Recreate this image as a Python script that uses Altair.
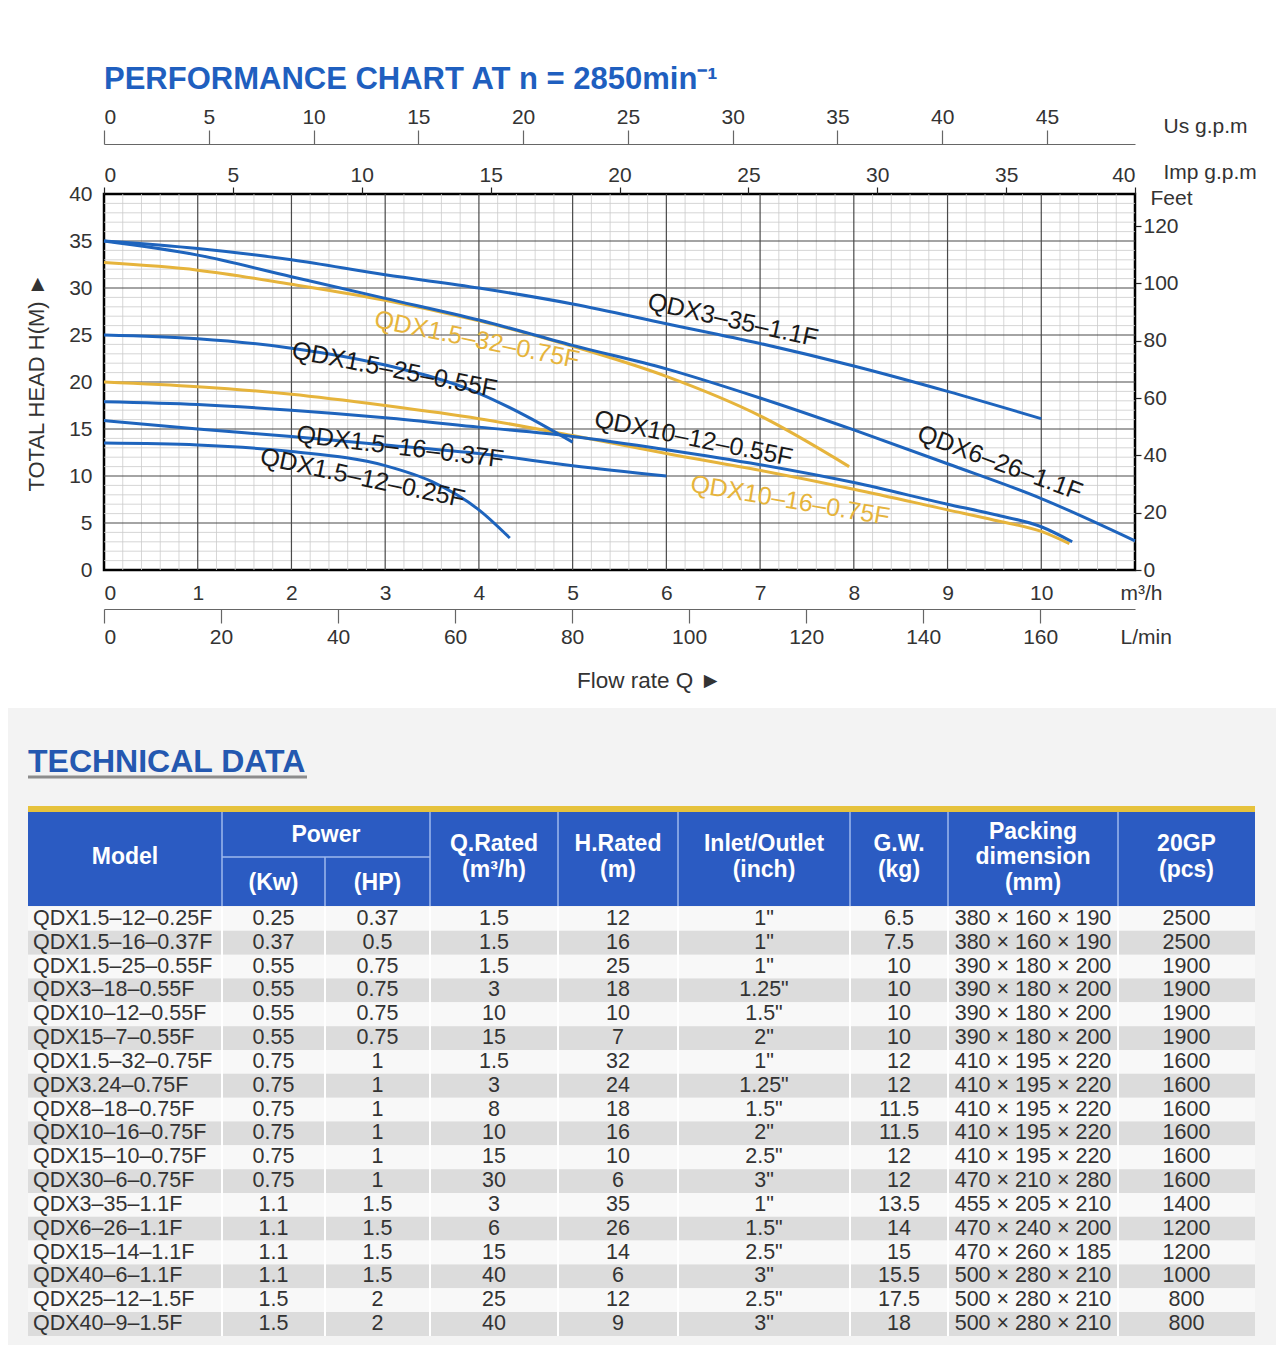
import altair as alt
import pandas as pd
import numpy as np

FONT = "Liberation Sans"
BLUE = "#1e64bd"
GOLD = "#e6b43c"
TXT = "#333333"

# ---------------- performance curves (flow m3/h, head m) ----------------
Q_3_35 = [0, 1, 2, 3, 4, 5, 6, 7, 8, 9, 10]
H_3_35 = [35.0, 34.2, 33.0, 31.4, 30.0, 28.3, 26.2, 24.1, 21.7, 19.0, 16.1]
Q_6_26 = [0, 1, 2, 3, 4, 5, 6, 7, 8, 9, 10, 11]
H_6_26 = [35.0, 33.5, 31.2, 28.9, 26.6, 23.9, 21.4, 18.3, 14.9, 11.3, 7.6, 3.1]
Q_15_32 = [0, 1, 2, 3, 4, 5, 6, 7, 7.95]
H_15_32 = [32.7, 31.9, 30.4, 28.7, 26.5, 23.8, 20.6, 16.4, 11.0]
Q_15_25 = [0, 1, 2, 3, 4, 4.5, 5]
H_15_25 = [25.0, 24.6, 23.6, 21.8, 18.8, 16.4, 13.6]
Q_10_12 = [0, 1, 2, 3, 4, 5, 6, 7, 8, 9, 9.5, 10, 10.33]
H_10_12 = [17.9, 17.6, 17.0, 16.2, 15.2, 14.2, 12.8, 11.2, 9.3, 7.0, 5.9, 4.6, 3.0]
Q_10_16 = [0, 1, 2, 3, 4, 5, 6, 7, 8, 9, 9.5, 10, 10.3]
H_10_16 = [20.0, 19.5, 18.7, 17.5, 16.1, 14.3, 12.4, 10.6, 8.6, 6.4, 5.3, 4.1, 2.8]
Q_15_16 = [0, 1, 2, 3, 4, 5, 6]
H_15_16 = [15.9, 15.0, 14.2, 13.3, 12.4, 11.1, 10.0]
Q_15_12 = [0, 1, 2, 3, 3.5, 4, 4.33]
H_15_12 = [13.5, 13.3, 12.6, 11.1, 9.4, 6.4, 3.4]

CURVES = [
    ("QDX3-35-1.1F", "blue", Q_3_35, H_3_35),
    ("QDX6-26-1.1F", "blue", Q_6_26, H_6_26),
    ("QDX1.5-32-0.75F", "yellow", Q_15_32, H_15_32),
    ("QDX1.5-25-0.55F", "blue", Q_15_25, H_15_25),
    ("QDX10-12-0.55F", "blue", Q_10_12, H_10_12),
    ("QDX10-16-0.75F", "yellow", Q_10_16, H_10_16),
    ("QDX1.5-16-0.37F", "blue", Q_15_16, H_15_16),
    ("QDX1.5-12-0.25F", "blue", Q_15_12, H_15_12),
]

LABEL_TEXT = ["QDX3–35–1.1F", "QDX1.5–32–0.75F", "QDX1.5–25–0.55F", "QDX10–12–0.55F",
              "QDX6–26–1.1F", "QDX1.5–16–0.37F", "QDX1.5–12–0.25F", "QDX10–16–0.75F"]
LABEL_Q = [6.71, 3.98, 3.10, 6.29, 9.56, 3.16, 2.76, 7.32]
LABEL_H = [26.6, 24.5, 21.3, 14.0, 11.4, 13.1, 9.8, 7.4]
LABEL_ANGLE = [12.5, 11.5, 11.0, 11.3, 20.4, 7.0, 12.0, 9.6]
LABEL_KIND = ["black", "gold", "black", "black", "black", "black", "black", "gold"]

M3H_TICKS = [0, 1, 2, 3, 4, 5, 6, 7, 8, 9, 10]
LMIN_TICKS = [0, 20, 40, 60, 80, 100, 120, 140, 160]
IMP_TICKS = [0, 5, 10, 15, 20, 25, 30, 35, 40]
US_TICKS = [0, 5, 10, 15, 20, 25, 30, 35, 40, 45]
HEAD_TICKS = [0, 5, 10, 15, 20, 25, 30, 35, 40]
FEET_TICKS = [0, 20, 40, 60, 80, 100, 120]

# ---------------- technical data ----------------
MODELS = ["QDX1.5–12–0.25F", "QDX1.5–16–0.37F", "QDX1.5–25–0.55F", "QDX3–18–0.55F",
          "QDX10–12–0.55F", "QDX15–7–0.55F", "QDX1.5–32–0.75F", "QDX3.24–0.75F",
          "QDX8–18–0.75F", "QDX10–16–0.75F", "QDX15–10–0.75F", "QDX30–6–0.75F",
          "QDX3–35–1.1F", "QDX6–26–1.1F", "QDX15–14–1.1F", "QDX40–6–1.1F",
          "QDX25–12–1.5F", "QDX40–9–1.5F"]
KW = ["0.25", "0.37", "0.55", "0.55", "0.55", "0.55", "0.75", "0.75", "0.75", "0.75",
      "0.75", "0.75", "1.1", "1.1", "1.1", "1.1", "1.5", "1.5"]
HP = ["0.37", "0.5", "0.75", "0.75", "0.75", "0.75", "1", "1", "1", "1", "1", "1",
      "1.5", "1.5", "1.5", "1.5", "2", "2"]
Q_RATED = ["1.5", "1.5", "1.5", "3", "10", "15", "1.5", "3", "8", "10", "15", "30",
           "3", "6", "15", "40", "25", "40"]
H_RATED = ["12", "16", "25", "18", "10", "7", "32", "24", "18", "16", "10", "6",
           "35", "26", "14", "6", "12", "9"]
INLET = ['1"', '1"', '1"', '1.25"', '1.5"', '2"', '1"', '1.25"', '1.5"', '2"', '2.5"', '3"',
         '1"', '1.5"', '2.5"', '3"', '2.5"', '3"']
GW = ["6.5", "7.5", "10", "10", "10", "10", "12", "12", "11.5", "11.5", "12", "12",
      "13.5", "14", "15", "15.5", "17.5", "18"]
PACKING = ["380 × 160 × 190", "380 × 160 × 190", "390 × 180 × 200", "390 × 180 × 200",
           "390 × 180 × 200", "390 × 180 × 200", "410 × 195 × 220", "410 × 195 × 220",
           "410 × 195 × 220", "410 × 195 × 220", "410 × 195 × 220", "470 × 210 × 280",
           "455 × 205 × 210", "470 × 240 × 200", "470 × 260 × 185", "500 × 280 × 210",
           "500 × 280 × 210", "500 × 280 × 210"]
PCS = ["2500", "2500", "1900", "1900", "1900", "1900", "1600", "1600", "1600", "1600",
       "1600", "1600", "1400", "1200", "1200", "1000", "800", "800"]

HEADERS = ["Model", "Power", "(Kw)", "(HP)", "Q.Rated\n(m³/h)", "H.Rated\n(m)",
           "Inlet/Outlet\n(inch)", "G.W.\n(kg)", "Packing\ndimension\n(mm)", "20GP\n(pcs)"]

# ================= performance chart =================
PW, PH = 1031, 376
XS = alt.Scale(domain=[0, 11], nice=False, zero=False)
YS = alt.Scale(domain=[0, 40], nice=False, zero=False)


def axis(**kw):
    d = dict(labelFont=FONT, labelFontSize=21, labelColor=TXT, titleFont=FONT,
             titleFontSize=21, titleColor=TXT, titleFontWeight="normal", grid=False)
    d.update(kw)
    return alt.Axis(**d)


minor_x = [round(v, 1) for v in np.arange(0.2, 11.0, 0.2) if abs(v - round(v)) > 1e-6]
minor_y = [v for v in range(1, 40) if v % 5]
major_x = list(range(1, 11))
major_y = list(range(5, 40, 5))

g1 = alt.Chart(pd.DataFrame({"gx": minor_x})).mark_rule(color="#cccccc", strokeWidth=0.8).encode(
    x=alt.X("gx:Q", scale=XS, axis=None))
g2 = alt.Chart(pd.DataFrame({"gy": minor_y})).mark_rule(color="#cccccc", strokeWidth=0.8).encode(
    y=alt.Y("gy:Q", scale=YS, axis=None))
g3 = alt.Chart(pd.DataFrame({"gx": major_x})).mark_rule(color="#4a4a4a", strokeWidth=1.2).encode(
    x=alt.X("gx:Q", scale=XS, axis=None))
g4 = alt.Chart(pd.DataFrame({"gy": major_y})).mark_rule(color="#4a4a4a", strokeWidth=1.2).encode(
    y=alt.Y("gy:Q", scale=YS, axis=None))

rows = []
for name, kind, qs, hs in CURVES:
    for qv, hv in zip(qs, hs):
        rows.append({"series": name, "kind": kind, "q": qv, "h": hv})
cdf = pd.DataFrame(rows)

x_axis_m3h = axis(orient="bottom", values=M3H_TICKS, format="d", ticks=False, tickSize=0,
                  domain=False, labelPadding=12, title="m³/h", titleAngle=0, titleX=1016,
                  titleY=23, titleAlign="left", titleBaseline="middle")
y_axis_left = axis(orient="left", values=HEAD_TICKS, format="d", ticks=False, tickSize=0,
                   domain=False, labelPadding=12, title="TOTAL HEAD H(M)   ►", titlePadding=20,
                   titleFontSize=22)

yellow = alt.Chart(cdf[cdf.kind == "yellow"]).mark_line(
    color=GOLD, strokeWidth=3, interpolate="monotone").encode(
    x=alt.X("q:Q", scale=XS, axis=None), y=alt.Y("h:Q", scale=YS, axis=None), detail="series:N")
blue = alt.Chart(cdf[cdf.kind == "blue"]).mark_line(
    color=BLUE, strokeWidth=3, interpolate="monotone").encode(
    x=alt.X("q:Q", scale=XS, axis=x_axis_m3h), y=alt.Y("h:Q", scale=YS, axis=y_axis_left),
    detail="series:N")

ldf = pd.DataFrame({"t": LABEL_TEXT, "q": LABEL_Q, "h": LABEL_H, "ang": LABEL_ANGLE, "kind": LABEL_KIND})


def label_layer(kind, color):
    return alt.Chart(ldf[ldf.kind == kind]).mark_text(font=FONT, fontSize=25, color=color).encode(
        x=alt.X("q:Q", scale=XS, axis=None), y=alt.Y("h:Q", scale=YS, axis=None),
        text="t:N", angle=alt.Angle("ang:Q", scale=None))


lab_black = label_layer("black", "#1a1a1a")
lab_gold = label_layer("gold", GOLD)

LMIN_MAX = 176.2
IMP_MAX = 40.0
US_MAX = 49.2
FEET_MAX = 40 / 0.3048

lmin_layer = alt.Chart(pd.DataFrame({"lmin": [0.0]})).mark_point(opacity=0).encode(
    x=alt.X("lmin:Q", scale=alt.Scale(domain=[0, LMIN_MAX], nice=False, zero=False),
            axis=axis(orient="bottom", offset=39, values=LMIN_TICKS, format="d", ticks=True,
                      tickSize=14, tickColor="#666666", tickWidth=1.2, domain=True,
                      domainColor="#666666", domainWidth=1.2, labelPadding=3, title="L/min",
                      titleAngle=0, titleX=1016, titleY=28, titleAlign="left",
                      titleBaseline="middle")),
    y=alt.Y("lmin:Q", scale=YS, axis=None))
flow_layer = alt.Chart(pd.DataFrame({"fq": [0.0]})).mark_point(opacity=0).encode(
    x=alt.X("fq:Q", scale=XS,
            axis=axis(orient="bottom", offset=39, labels=False, ticks=False, tickSize=0,
                      domain=False, title="Flow rate Q   ►", titleFontSize=22.5, titleAngle=0,
                      titleX=545, titleY=71, titleAlign="center", titleBaseline="middle")),
    y=alt.Y("fq:Q", scale=YS, axis=None))
imp_layer = alt.Chart(pd.DataFrame({"imp": [0.0]})).mark_point(opacity=0).encode(
    x=alt.X("imp:Q", scale=alt.Scale(domain=[0, IMP_MAX], nice=False, zero=False),
            axis=axis(orient="top", offset=0, values=IMP_TICKS, format="d", ticks=True,
                      tickSize=7, tickColor="#222222", tickWidth=1.2, domain=False,
                      labelPadding=2, title="Imp g.p.m", titleAngle=0, titleX=1059,
                      titleY=-22, titleAlign="left", titleBaseline="middle")),
    y=alt.Y("imp:Q", scale=YS, axis=None))
us_layer = alt.Chart(pd.DataFrame({"us": [0.0]})).mark_point(opacity=0).encode(
    x=alt.X("us:Q", scale=alt.Scale(domain=[0, US_MAX], nice=False, zero=False),
            axis=axis(orient="top", offset=50, values=US_TICKS, format="d", ticks=True,
                      tickSize=14, tickColor="#666666", tickWidth=1.2, domain=True,
                      domainColor="#666666", domainWidth=1.2, labelPadding=3,
                      title="Us g.p.m", titleAngle=0, titleX=1059, titleY=-18,
                      titleAlign="left", titleBaseline="middle")),
    y=alt.Y("us:Q", scale=YS, axis=None))
feet_layer = alt.Chart(pd.DataFrame({"ft": [0.0]})).mark_point(opacity=0).encode(
    x=alt.X("ft:Q", scale=XS, axis=None),
    y=alt.Y("ft:Q", scale=alt.Scale(domain=[0, FEET_MAX], nice=False, zero=False),
            axis=axis(orient="right", values=FEET_TICKS, format="d", ticks=True, tickSize=6,
                      tickColor="#222222", tickWidth=1.2, domain=False, labelPadding=2,
                      title="Feet", titleAngle=0, titleX=15, titleY=4, titleAlign="left",
                      titleBaseline="middle")))

# ================= technical data table (placed below the plot) =================
# table layout units: x 0 == page x 28, y 0 == page y 708 ; plot origin is page (104, 194)
TW, TH = 1248, 637
TX0, TY0 = 28 - 104, 708 - 194
TXS = alt.Scale(domain=[0, TW], range=[TX0, TX0 + TW], nice=False, zero=False)
TYS = alt.Scale(domain=[0, TH], range=[TY0, TY0 + TH], nice=False, zero=False)
COL_EDGES = [0, 194, 297, 402, 530, 650, 822, 920, 1090, 1227]
HEAD_TOP, HEAD_MID, HEAD_BOT = 104, 149, 198
ROW_TOP, ROW_H = 199, 23.83
n = len(MODELS)


def tx(field):
    return alt.X(field + ":Q", scale=TXS, axis=None)


def ty(field):
    return alt.Y(field + ":Q", scale=TYS, axis=None)


def rect(df, **mk):
    return alt.Chart(df).mark_rect(**mk).encode(x=tx("x"), x2="x2:Q", y=ty("y"), y2="y2:Q")


sect_bg = rect(pd.DataFrame({"x": [-20], "x2": [TW], "y": [0], "y2": [TH]}), color="#f3f3f3")
heading = alt.Chart(pd.DataFrame({"x": [0], "y": [64], "t": ["TECHNICAL DATA"]})).mark_text(
    font=FONT, fontSize=32, fontWeight="bold", color="#2458b0", align="left",
    baseline="alphabetic").encode(x=tx("x"), y=ty("y"), text="t:N")
underline = alt.Chart(pd.DataFrame({"x": [0], "x2": [279], "y": [69]})).mark_rule(
    color="#8c8c8c", strokeWidth=3).encode(x=tx("x"), x2="x2:Q", y=ty("y"))
gold_bar = rect(pd.DataFrame({"x": [0], "x2": [COL_EDGES[-1]], "y": [98], "y2": [HEAD_TOP]}), color="#e6c23c")
head_bg = rect(pd.DataFrame({"x": [0], "x2": [COL_EDGES[-1]], "y": [HEAD_TOP], "y2": [HEAD_BOT]}), color="#2b5bc2")

hsep = []
for e in [COL_EDGES[1], COL_EDGES[3], COL_EDGES[4], COL_EDGES[5], COL_EDGES[6], COL_EDGES[7], COL_EDGES[8]]:
    hsep.append({"x": e, "x2": e, "y": HEAD_TOP, "y2": HEAD_BOT})
hsep.append({"x": COL_EDGES[2], "x2": COL_EDGES[2], "y": HEAD_MID, "y2": HEAD_BOT})
hsep.append({"x": COL_EDGES[1], "x2": COL_EDGES[3], "y": HEAD_MID, "y2": HEAD_MID})
head_sep = alt.Chart(pd.DataFrame(hsep)).mark_rule(color="#9fb8ec", strokeWidth=1.5).encode(
    x=tx("x"), x2="x2:Q", y=ty("y"), y2="y2:Q")

rrows = []
for i in range(n):
    rrows.append({"x": 0, "x2": COL_EDGES[-1], "y": ROW_TOP + i * ROW_H, "y2": ROW_TOP + (i + 1) * ROW_H,
                  "c": "#f8f8f8" if i % 2 == 0 else "#dcdcdc"})
row_bg = alt.Chart(pd.DataFrame(rrows)).mark_rect().encode(
    x=tx("x"), x2="x2:Q", y=ty("y"), y2="y2:Q", color=alt.Color("c:N", scale=None))
rsep = [{"x": e, "x2": e, "y": ROW_TOP, "y2": ROW_TOP + n * ROW_H} for e in COL_EDGES[1:-1]]
row_sep = alt.Chart(pd.DataFrame(rsep)).mark_rule(color="#ffffff", strokeWidth=2).encode(
    x=tx("x"), x2="x2:Q", y=ty("y"), y2="y2:Q")

# header text: y is the centre of the first line of each (multi-line) label
LINE_H = 25.5
centers = [(COL_EDGES[k] + COL_EDGES[k + 1]) / 2 for k in range(len(COL_EDGES) - 1)]
hcells = [
    {"x": centers[0], "y": HEAD_MID, "t": HEADERS[0]},
    {"x": (COL_EDGES[1] + COL_EDGES[3]) / 2, "y": (HEAD_TOP + HEAD_MID) / 2, "t": HEADERS[1]},
    {"x": centers[1], "y": (HEAD_MID + HEAD_BOT) / 2 + 1, "t": HEADERS[2]},
    {"x": centers[2], "y": (HEAD_MID + HEAD_BOT) / 2 + 1, "t": HEADERS[3]},
]
for k, h in zip(range(3, 9), HEADERS[4:]):
    nl = h.count("\n")
    hcells.append({"x": centers[k], "y": HEAD_MID - nl * LINE_H / 2, "t": h})
head_text = alt.Chart(pd.DataFrame(hcells)).mark_text(
    font=FONT, fontSize=23, fontWeight="bold", color="#ffffff", lineBreak="\n",
    lineHeight=LINE_H, baseline="middle").encode(x=tx("x"), y=ty("y"), text="t:N")

cells = []
cols = [KW, HP, Q_RATED, H_RATED, INLET, GW, PACKING, PCS]
for i in range(n):
    yc = ROW_TOP + (i + 0.5) * ROW_H
    for k, col in enumerate(cols):
        cells.append({"x": centers[k + 1], "y": yc, "t": col[i]})
mcells = [{"x": 5, "y": ROW_TOP + (i + 0.5) * ROW_H, "t": MODELS[i]} for i in range(n)]
cell_text = alt.Chart(pd.DataFrame(cells)).mark_text(
    font=FONT, fontSize=21.5, color=TXT, baseline="middle").encode(x=tx("x"), y=ty("y"), text="t:N")
model_text = alt.Chart(pd.DataFrame(mcells)).mark_text(
    font=FONT, fontSize=21.5, color=TXT, baseline="middle", align="left").encode(
    x=tx("x"), y=ty("y"), text="t:N")

chart = alt.layer(
    sect_bg, g1, g2, g3, g4, yellow, blue, lab_black, lab_gold,
    lmin_layer, flow_layer, imp_layer, us_layer, feet_layer,
    heading, underline, gold_bar, head_bg, row_bg, row_sep, head_sep,
    head_text, cell_text, model_text,
).resolve_scale(x="independent", y="independent").properties(
    width=PW, height=PH,
    title=alt.TitleParams("PERFORMANCE CHART AT n = 2850min⁻¹", anchor="start", frame="group",
                          font=FONT, fontSize=31, fontWeight="bold", color="#1f5fbf", offset=10),
    view=alt.ViewBackground(stroke="#000000", strokeWidth=2.5),
    padding={"left": 0, "top": 56, "right": 0, "bottom": 0},
    background="#ffffff",
)

chart.save("out.html", embed_options={"renderer": "svg", "actions": False})
